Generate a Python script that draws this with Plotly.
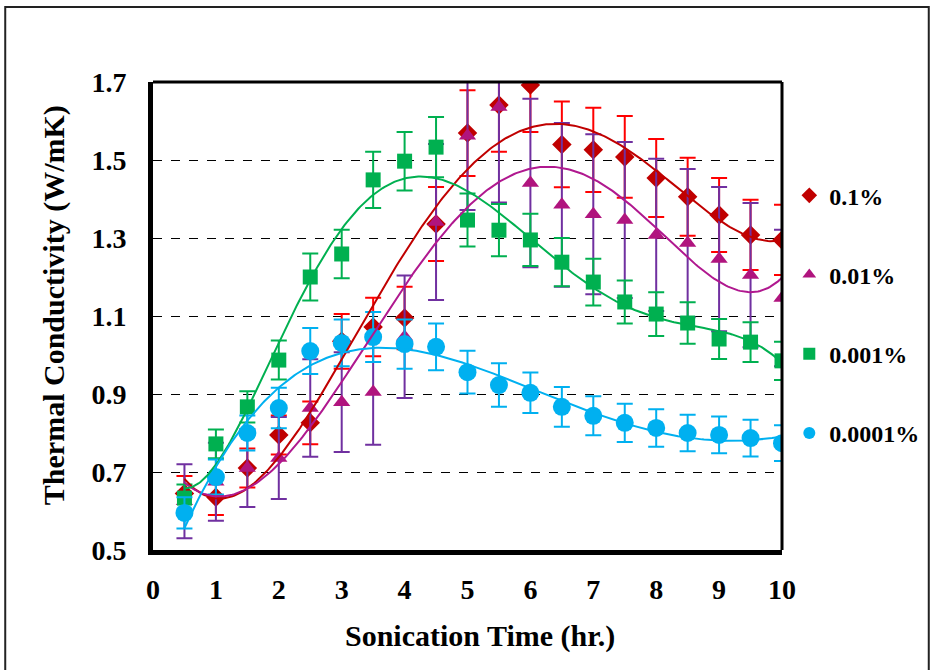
import numpy as np
import plotly.graph_objects as go

time_hr = [0.5, 1, 1.5, 2, 2.5, 3, 3.5, 4, 4.5, 5, 5.5, 6, 6.5, 7, 7.5, 8, 8.5, 9, 9.5, 10]

k_01 = [0.645, 0.635, 0.71, 0.795, 0.826, 1.035, 1.072, 1.095, 1.336, 1.569, 1.641, 1.692,
        1.54, 1.526, 1.508, 1.454, 1.406, 1.359, 1.308, 1.295]
e_01 = [0.045, 0.045, 0.05, 0.05, 0.055, 0.07, 0.075, 0.08, 0.095, 0.11, 0.12, 0.12,
        0.11, 0.108, 0.105, 0.1, 0.1, 0.095, 0.09, 0.09]

k_001 = [0.625, 0.675, 0.71, 0.736, 0.864, 0.879, 0.905, 1.047, 1.341, 1.562, 1.636, 1.441,
         1.385, 1.361, 1.346, 1.308, 1.287, 1.246, 1.205, 1.146]
e_001 = [0.095, 0.1, 0.1, 0.105, 0.125, 0.128, 0.135, 0.157, 0.2, 0.19, 0.245, 0.216,
         0.21, 0.205, 0.2, 0.195, 0.19, 0.185, 0.185, 0.175]

k_0001 = [0.633, 0.772, 0.867, 0.987, 1.2, 1.259, 1.449, 1.497, 1.533, 1.346, 1.32, 1.295,
          1.238, 1.187, 1.136, 1.105, 1.082, 1.041, 1.033, 0.985]
e_0001 = [0.035, 0.037, 0.04, 0.05, 0.06, 0.062, 0.072, 0.075, 0.077, 0.068, 0.067, 0.067,
          0.062, 0.06, 0.055, 0.056, 0.053, 0.051, 0.051, 0.049]

k_00001 = [0.595, 0.687, 0.8, 0.864, 1.01, 1.031, 1.046, 1.028, 1.021, 0.956, 0.923, 0.903,
           0.867, 0.844, 0.826, 0.813, 0.8, 0.795, 0.787, 0.774]
e_00001 = [0.04, 0.045, 0.045, 0.052, 0.059, 0.06, 0.064, 0.063, 0.06, 0.055, 0.056, 0.052,
           0.051, 0.05, 0.049, 0.048, 0.047, 0.047, 0.047, 0.046]

series_names = ["0.1%", "0.01%", "0.001%", "0.0001%"]
trend_order = [4, 5, 6, 4]   # polynomial trendline order per series

FONT = "Liberation Serif"

series = [
    dict(name=series_names[0], y=k_01, e=e_01, symbol="diamond", size=15,
         mcolor="#C00000", ecolor="#FF0000", lcolor="#C00000"),
    dict(name=series_names[1], y=k_001, e=e_001, symbol="triangle-up", size=15,
         mcolor="#B0147E", ecolor="#7030A0", lcolor="#B0188F"),
    dict(name=series_names[2], y=k_0001, e=e_0001, symbol="square", size=15,
         mcolor="#00B050", ecolor="#00B050", lcolor="#00B050"),
    dict(name=series_names[3], y=k_00001, e=e_00001, symbol="circle", size=18,
         mcolor="#00B0F0", ecolor="#00B0F0", lcolor="#00B0F0"),
]

fig = go.Figure()

for s in series:
    fig.add_trace(go.Scatter(
        x=time_hr, y=s["y"], mode="markers", name=s["name"],
        legendgroup=s["name"],
        marker=dict(symbol=s["symbol"], size=s["size"], color=s["mcolor"],
                    line=dict(width=0)),
        error_y=dict(type="data", array=s["e"], visible=True, color=s["ecolor"],
                     thickness=2, width=8),
    ))

xs = np.linspace(min(time_hr), max(time_hr), 300)
for s, order in zip(series, trend_order):
    coef = np.polyfit(time_hr, s["y"], order)
    fig.add_trace(go.Scatter(
        x=xs, y=np.polyval(coef, xs), mode="lines", showlegend=False,
        line=dict(color=s["lcolor"], width=2), hoverinfo="skip",
    ))

fig.update_layout(
    width=935, height=670,
    margin=dict(l=153, r=152, t=82, b=120),
    paper_bgcolor="white", plot_bgcolor="white",
    font=dict(family=FONT, color="black"),
    showlegend=True,
    legend=dict(
        x=1.010, xanchor="left", y=0.805, yanchor="top",
        font=dict(family=FONT, size=24, weight="bold", color="black"),
        tracegroupgap=45, itemsizing="constant", bgcolor="rgba(0,0,0,0)",
    ),
    xaxis=dict(
        range=[0, 10], dtick=1, tick0=0, showgrid=False, zeroline=False,
        showline=True, linecolor="black", linewidth=5, mirror=False,
        ticks="", ticklabelstandoff=10,
        tickfont=dict(family=FONT, size=28, weight="bold"),
    ),
    yaxis=dict(
        range=[0.5, 1.7], dtick=0.2, tick0=0.5, tickformat=".1f",
        showgrid=True, gridcolor="black", gridwidth=1, griddash="dash",
        zeroline=False, showline=True, linecolor="black", linewidth=5, mirror=False,
        ticks="", ticklabelstandoff=16,
        tickfont=dict(family=FONT, size=28, weight="bold"),
    ),
    annotations=[
        dict(text="Sonication Time (hr.)", xref="paper", yref="paper",
             x=(481 - 153) / 630, y=(550 - 636) / 468, xanchor="center", yanchor="middle",
             showarrow=False, font=dict(family=FONT, size=30, weight="bold")),
        dict(text="Thermal Conductivity (W/mK)", xref="paper", yref="paper",
             x=(54 - 153) / 630, y=(550 - 305) / 468, xanchor="center", yanchor="middle",
             textangle=-90, showarrow=False,
             font=dict(family=FONT, size=30, weight="bold")),
    ],
    shapes=[
        dict(type="rect", xref="paper", yref="paper",
             x0=(5 - 153) / 630, x1=(930 - 153) / 630,
             y0=(550 - 690) / 468, y1=(550 - 7) / 468,
             line=dict(color="#222222", width=2), layer="below"),
        dict(type="line", xref="paper", yref="paper", x0=0, x1=1, y0=1, y1=1,
             line=dict(color="black", width=3), layer="above"),
        dict(type="line", xref="paper", yref="paper", x0=1, x1=1, y0=0, y1=1,
             line=dict(color="black", width=3), layer="above"),
    ],
)

fig.write_html("out.html")
